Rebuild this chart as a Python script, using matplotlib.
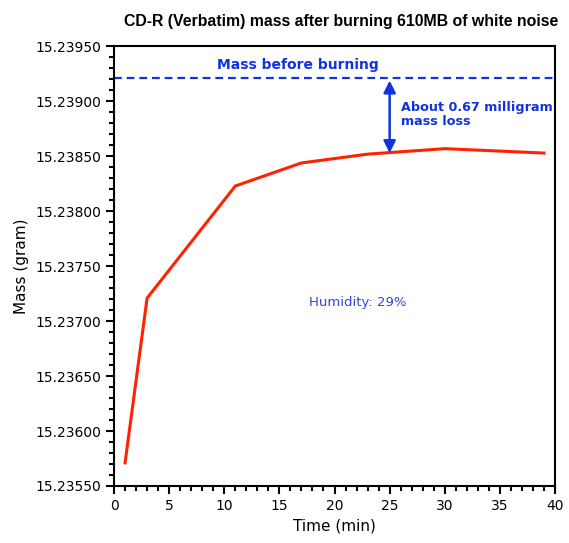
import matplotlib
matplotlib.use("Agg")
import matplotlib.pyplot as plt
from matplotlib.ticker import MultipleLocator, FormatStrFormatter

time_min = [1, 3, 11, 17, 23, 30, 39]
mass_g = [15.23571, 15.23721, 15.23823, 15.23844, 15.23852, 15.23857, 15.23853]
mass_before = 15.23921
arrow_x = 25
arrow_bottom = 15.23853

fig = plt.figure(figsize=(5.69, 5.43), dpi=100)
ax = fig.add_axes([0.2004, 0.105, 0.775, 0.8094])

ax.plot(time_min, mass_g, color="#ff2200", lw=2.2, solid_joinstyle="miter")
ax.axhline(mass_before, color="#1133dd", lw=1.6, ls=(0, (3.5, 2.2)))

ax.annotate("", xy=(arrow_x, arrow_bottom), xytext=(arrow_x, mass_before - 0.00002),
            arrowprops=dict(arrowstyle="<|-|>", color="#1133dd", lw=1.8,
                            mutation_scale=18, shrinkA=0, shrinkB=0))
ax.text(16.7, mass_before + 0.00006, "Mass before burning", color="#1133dd",
        fontsize=10, fontweight="bold", ha="center", va="bottom")
ax.text(26.0, 15.23888, "About 0.67 milligram\nmass loss", color="#1133dd",
        fontsize=9.2, fontweight="bold", ha="left", va="center", linespacing=1.15)
ax.text(22.1, 15.23717, "Humidity: 29%", color="#3344dd", fontsize=9.5,
        ha="center", va="center")

ax.set_xlim(0, 40)
ax.set_ylim(15.2355, 15.2395)
ax.xaxis.set_major_locator(MultipleLocator(5))
ax.xaxis.set_minor_locator(MultipleLocator(1))
ax.yaxis.set_major_locator(MultipleLocator(0.0005))
ax.yaxis.set_minor_locator(MultipleLocator(0.0001))
ax.yaxis.set_major_formatter(FormatStrFormatter("%.5f"))
ax.tick_params(which="major", direction="out", length=6, width=1.5, labelsize=10)
ax.tick_params(which="minor", direction="out", length=3.5, width=1.5)
for s in ax.spines.values():
    s.set_linewidth(1.5)

ax.set_xlabel("Time (min)", fontsize=11)
ax.set_ylabel("Mass (gram)", fontsize=11)
ax.set_title("CD-R (Verbatim) mass after burning 610MB of white noise",
             fontsize=11.4, fontweight="bold", pad=15, x=0.515,
             family="Liberation Sans")

fig.savefig("out.png", dpi=100)
